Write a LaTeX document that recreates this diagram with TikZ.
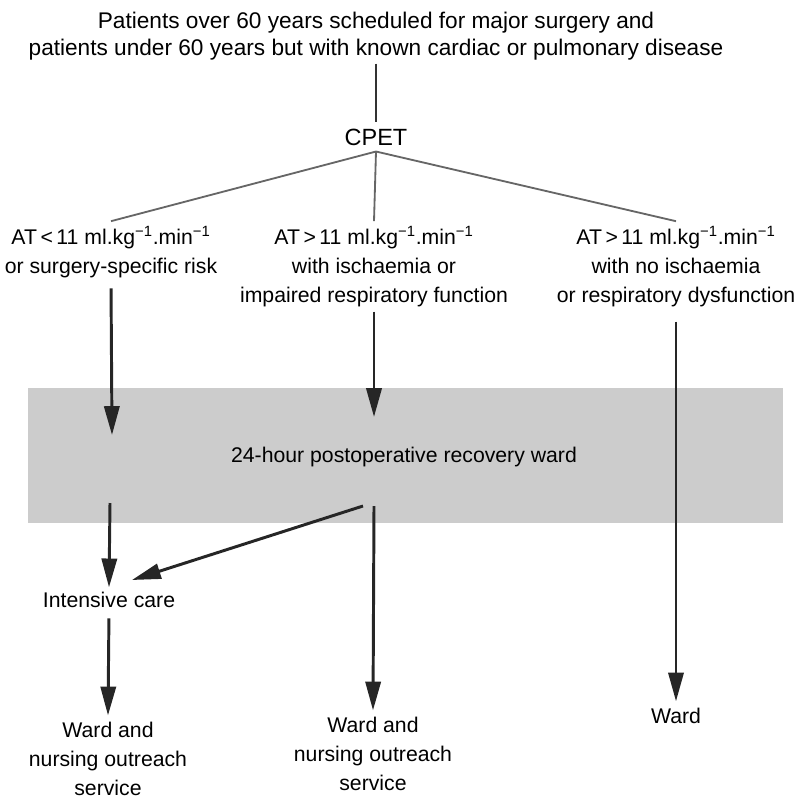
\documentclass[tikz,border=0pt]{standalone}
\usepackage{fontspec}
\setmainfont{Liberation Sans}
\usetikzlibrary{positioning,arrows.meta}
\begin{document}
\begin{tikzpicture}[x=0.025cm,y=-0.025cm,>=Stealth,font=\fontsize{15.1pt}{20.6pt}\selectfont]
\tikzstyle{T}=[align=center,inner xsep=0pt,inner ysep=0.125cm,anchor=base]
\tikzstyle{W}=[T,inner ysep=0.15cm]
\tikzstyle{A}=[draw=black!85,line width=2.1pt,-{Triangle[length=0.72cm,width=0.38cm]}]
\tikzstyle{B}=[draw=black!60,line width=1.3pt]
\useasboundingbox (0,0) rectangle (801,796);
\fill[black!20] (28,388) rectangle (783,523);
\node[T,font=\fontsize{16.1pt}{19.2pt}\selectfont,inner ysep=0.09cm] (top) at (376,55) {Patients over 60 years scheduled for major surgery and\\patients under 60 years but with known cardiac or pulmonary disease};
\node[T,font=\fontsize{16.7pt}{20pt}\selectfont,inner ysep=0.15cm] (cpet) at (376,145) {CPET};
\node[T] (lowAT) at (111,273) {AT\,<\,11 ml.kg\textsuperscript{−1}.min\textsuperscript{−1}\\or surgery-specific risk};
\node[T] (midAT) at (374,302) {AT\,>\,11 ml.kg\textsuperscript{−1}.min\textsuperscript{−1}\\with ischaemia or\\impaired respiratory function};
\node[T] (highAT) at (676,302) {AT\,>\,11 ml.kg\textsuperscript{−1}.min\textsuperscript{−1}\\with no ischaemia\\or respiratory dysfunction};
\node[T,inner sep=0pt] (recov) at (404,462) {24-hour postoperative recovery ward};
\node[T,inner ysep=0.1cm] (icu) at (109,607) {Intensive care};
\node[W] (wardL) at (108,795) {Ward and\\nursing outreach\\service};
\node[W] (wardM) at (373,790) {Ward and\\nursing outreach\\service};
\node[W] (wardR) at (676,723) {Ward};
\coordinate (l1) at (112,435); \coordinate (l2) at (110,503);
\coordinate (m1) at (374,417); \coordinate (m2) at (374,506); \coordinate (m3) at (363,506); \coordinate (icuIn) at (132,580);
\draw[B,line width=1.8pt,black!80] (top.south) -- (cpet.north);
\draw[B] (cpet.south) -- (lowAT.north); \draw[B] (cpet.south) -- (midAT.north); \draw[B] (cpet.south) -- (highAT.north);
\draw[A,shorten <=0.14cm] (lowAT.south) -- (l1); \draw[A] (l2) -- (icu.north); \draw[A,shorten <=0.17cm] (icu.south) -- (wardL.north);
\draw[A] (midAT.south) -- (m1); \draw[A] (m3) -- (icuIn); \draw[A] (m2) -- (wardM.north);
\draw[A,shorten <=0.25cm] (highAT.south) -- (wardR.north);
\end{tikzpicture}
\end{document}
